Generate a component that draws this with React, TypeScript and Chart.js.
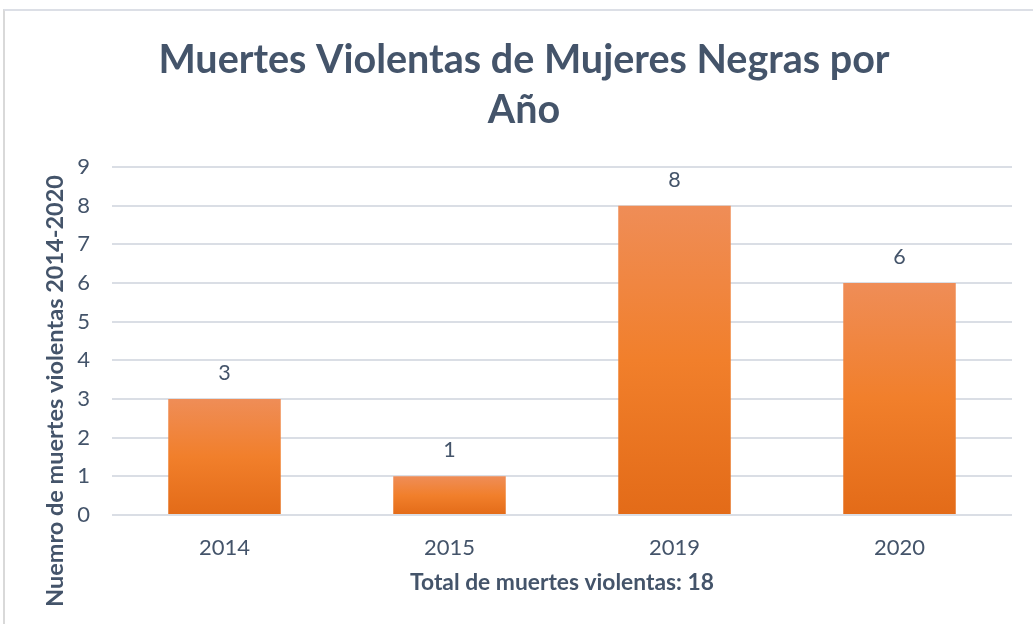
import React, { useEffect, useRef } from 'react';
import { Chart, registerables } from 'chart.js';

Chart.register(...registerables);

const categories = ['2014', '2015', '2019', '2020'];
const values = [3, 1, 8, 6];
const yMin = 0;
const yMax = 9;
const yStep = 1;
const titleLines = ['Muertes Violentas de Mujeres Negras por', 'Año'];
const yAxisTitle = 'Nuemro de muertes violentas 2014-2020';
const xAxisTitle = 'Total de muertes violentas: 18';

const FONT = 'Lato, Carlito, Calibri, "Open Sans", sans-serif';
const TEXT = '#44546A';
const GRID = '#DADEE5';

const textPlugin = {
  id: 'customTexts',
  afterDraw(chart: any) {
    const c = chart.ctx as CanvasRenderingContext2D;
    const area = chart.chartArea;
    c.save();
    c.fillStyle = TEXT;
    c.textAlign = 'center';
    c.textBaseline = 'middle';
    c.font = `bold 39.5px ${FONT}`;
    c.fillText(titleLines[0], 524, 60);
    c.fillText(titleLines[1], 524, 110);
    c.font = `bold 22.8px ${FONT}`;
    c.fillText(xAxisTitle, (area.left + area.right) / 2, 583);
    c.save();
    c.translate(55, 391);
    c.rotate(-Math.PI / 2);
    c.font = `bold 23.5px ${FONT}`;
    c.fillText(yAxisTitle, 0, 0);
    c.restore();
    const meta = chart.getDatasetMeta(0);
    c.font = `21.5px ${FONT}`;
    meta.data.forEach((el: any, i: number) => {
      c.fillText(String(values[i]), el.x, el.y - 26);
    });
    c.restore();
  },
};

export default function App() {
  const ref = useRef<HTMLCanvasElement | null>(null);

  useEffect(() => {
    document.body.style.overflow = 'hidden';
    const canvas = ref.current!;
    const chart = new Chart(canvas, {
      type: 'bar',
      data: {
        labels: categories,
        datasets: [
          {
            data: values,
            backgroundColor: (ctx: any) => {
              const ch = ctx.chart;
              const y = ch.scales && ch.scales.y;
              if (!y || ctx.type !== 'data') return '#F07E2A';
              const top = y.getPixelForValue(ctx.raw);
              const bottom = y.getPixelForValue(0);
              if (!isFinite(top) || !isFinite(bottom) || top === bottom) return '#F07E2A';
              const g = ch.ctx.createLinearGradient(0, top, 0, bottom);
              g.addColorStop(0, '#EF8D57');
              g.addColorStop(0.5, '#F17F2B');
              g.addColorStop(1, '#E36B18');
              return g;
            },
            borderWidth: 0,
            barPercentage: 0.5,
            categoryPercentage: 1,
          },
        ],
      },
      options: {
        responsive: false,
        animation: false,
        devicePixelRatio: 1,
        layout: { padding: { top: 167, left: 52, right: 21, bottom: 59 } },
        plugins: {
          legend: { display: false },
          title: { display: false },
          tooltip: { enabled: false },
        },
        scales: {
          x: {
            grid: { display: false, drawTicks: false },
            border: { display: false },
            ticks: { color: TEXT, font: { family: FONT, size: 22 }, padding: 20 },
            afterFit: (s: any) => {
              s.height = 50;
            },
          },
          y: {
            min: yMin,
            max: yMax,
            grid: { color: GRID, lineWidth: 2, drawTicks: false },
            border: { display: false },
            ticks: { stepSize: yStep, color: TEXT, font: { family: FONT, size: 22 }, padding: 22 },
            afterFit: (s: any) => {
              s.width = 60;
            },
          },
        },
      },
      plugins: [textPlugin],
    });
    return () => chart.destroy();
  }, []);

  return (
    <div>
      <div
        style={{
          position: 'fixed',
          left: 3,
          top: 9,
          width: 1200,
          height: 800,
          borderLeft: '2px solid #D9D9D9',
          borderTop: '2px solid #DCDFE6',
          background: '#fff',
        }}
      />
      <canvas
        ref={ref}
        width={1033}
        height={624}
        style={{ position: 'fixed', left: 0, top: 0, width: 1033, height: 624 }}
      />
    </div>
  );
}
